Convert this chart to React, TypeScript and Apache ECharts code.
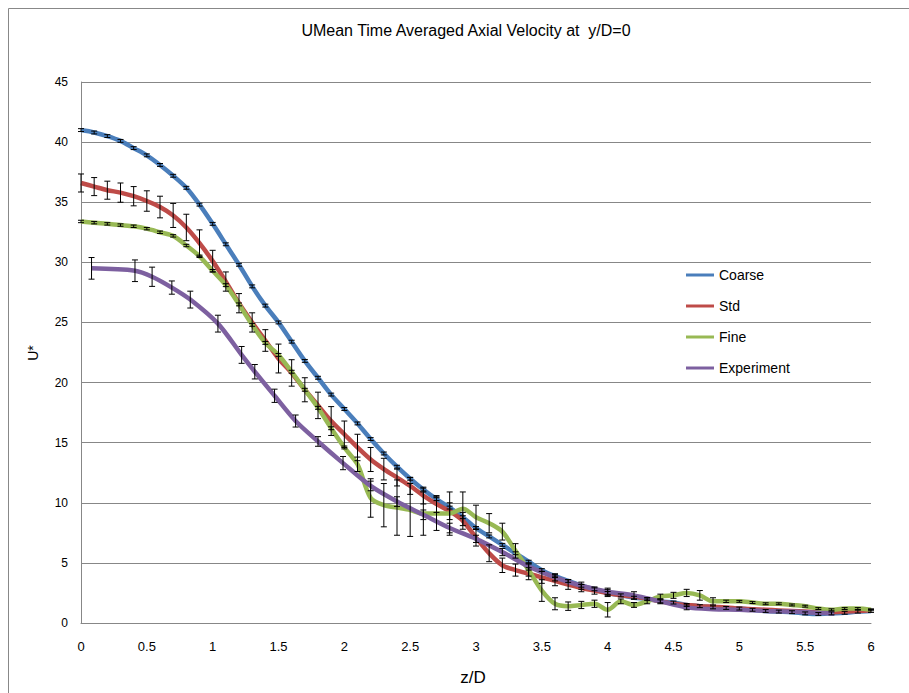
import React, { useEffect, useRef } from "react";
import * as echarts from "echarts";

const modelZ = [
  0, 0.1, 0.2, 0.3, 0.4, 0.5, 0.6, 0.7, 0.8, 0.9,
  1.0, 1.1, 1.2, 1.3, 1.4, 1.5, 1.6, 1.7, 1.8, 1.9,
  2.0, 2.1, 2.2, 2.3, 2.4, 2.5, 2.6, 2.7, 2.8, 2.9,
  3.0, 3.1, 3.2, 3.3, 3.4, 3.5, 3.6, 3.7, 3.8, 3.9,
  4.0, 4.1, 4.2, 4.3, 4.4, 4.5, 4.6, 4.7, 4.8, 4.9,
  5.0, 5.1, 5.2, 5.3, 5.4, 5.5, 5.6, 5.7, 5.8, 5.9, 6.0,
];

const coarseU = [
  41.0, 40.8, 40.5, 40.1, 39.5, 38.9, 38.1, 37.2, 36.2, 34.8,
  33.2, 31.5, 29.8, 28.0, 26.4, 25.0, 23.4, 21.8, 20.4, 19.0,
  17.8, 16.6, 15.3, 14.1, 13.0, 12.0, 11.1, 10.3, 9.6, 8.8,
  7.9, 7.2, 6.5, 5.8, 5.1, 4.4, 3.9, 3.5, 3.1, 2.8,
  2.5, 2.3, 2.1, 2.0, 1.8, 1.7, 1.5, 1.4, 1.3, 1.25,
  1.2, 1.1, 1.0, 0.95, 0.9, 0.8, 0.75, 0.8, 0.85, 0.95, 1.0,
];
const coarseErr = [
  0.12, 0.12, 0.12, 0.12, 0.12, 0.12, 0.12, 0.12, 0.12, 0.12,
  0.12, 0.12, 0.12, 0.12, 0.12, 0.12, 0.12, 0.12, 0.12, 0.12,
  0.12, 0.12, 0.12, 0.12, 0.12, 0.12, 0.12, 0.12, 0.12, 0.12,
  0.12, 0.12, 0.12, 0.12, 0.12, 0.12, 0.12, 0.12, 0.12, 0.12,
  0.12, 0.12, 0.12, 0.12, 0.12, 0.12, 0.12, 0.12, 0.12, 0.12,
  0.12, 0.12, 0.12, 0.12, 0.12, 0.12, 0.12, 0.12, 0.12, 0.12, 0.12,
];

const stdU = [
  36.6, 36.3, 36.0, 35.8, 35.5, 35.1, 34.6, 33.9, 32.9, 31.6,
  30.1, 28.4, 26.6, 25.0, 23.5, 22.0, 20.8, 19.4, 18.1, 16.8,
  15.7, 14.6, 13.6, 12.8, 12.1, 11.4, 10.6, 9.9, 9.3, 8.5,
  7.1, 5.8, 4.8, 4.4, 4.1, 3.8, 3.5, 3.2, 2.9, 2.7,
  2.5, 2.3, 2.2, 2.0, 1.8, 1.6, 1.5, 1.4, 1.35, 1.3,
  1.2, 1.15, 1.1, 1.05, 1.0, 0.95, 0.9, 0.9, 0.95, 1.0, 1.05,
];
const stdErr = [
  0.75, 0.75, 0.75, 0.8, 0.8, 0.85, 0.9, 1.0, 1.1, 1.1,
  0.9, 0.8, 0.8, 0.8, 0.9, 1.2, 1.1, 1.0, 1.1, 1.2,
  1.1, 1.1, 1.0, 0.9, 0.7, 0.7, 0.7, 0.7, 0.7, 0.7,
  0.7, 0.7, 0.6, 0.5, 0.5, 0.5, 0.4, 0.4, 0.3, 0.3,
  0.3, 0, 0, 0, 0, 0, 0, 0, 0, 0,
  0, 0, 0, 0, 0, 0, 0, 0, 0, 0, 0,
];

const fineU = [
  33.4, 33.3, 33.2, 33.1, 33.0, 32.8, 32.5, 32.2, 31.4, 30.5,
  29.3, 28.1, 26.5, 24.8, 23.3, 22.3, 20.9, 19.4, 17.9, 16.2,
  14.6, 13.2, 10.4, 9.8, 9.6, 9.4, 9.1, 9.1, 9.1, 9.5,
  8.8, 8.3, 7.6, 6.0, 4.4, 2.7, 1.6, 1.4, 1.5, 1.6,
  1.1, 1.8, 1.5, 1.8, 2.2, 2.3, 2.5, 2.3, 1.8, 1.8,
  1.8, 1.7, 1.6, 1.6, 1.5, 1.4, 1.2, 1.1, 1.2, 1.2, 1.1,
];
const fineErr = [
  0.1, 0.1, 0.1, 0.1, 0.1, 0.1, 0.1, 0.1, 0.1, 0.1,
  0.1, 0.12, 0.12, 0.12, 0.12, 0.12, 0.12, 0.12, 0.12, 0.12,
  0.12, 0.6, 1.6, 1.8, 2.3, 2.2, 1.8, 1.4, 1.8, 1.4,
  1.0, 0.8, 0.7, 0.6, 0.5, 0.9, 0.5, 0.35, 0.3, 0.3,
  0.6, 0.2, 0.2, 0.2, 0.2, 0.25, 0.3, 0.4, 0.3, 0.1,
  0.08, 0.08, 0.08, 0.08, 0.08, 0.08, 0.08, 0.08, 0.08, 0.08, 0.08,
];

const expZ = [
  0.08, 0.41, 0.54, 0.69, 0.83, 1.04, 1.22, 1.32, 1.47, 1.63,
  1.8, 1.99, 2.2, 2.4, 2.6, 2.8, 3.0, 3.2, 3.4, 3.6,
  3.8, 4.0, 4.2, 4.4, 4.6, 4.8, 5.0, 5.2, 5.4, 5.6, 5.72,
];
const expU = [
  29.5, 29.3, 28.8, 27.9, 26.9, 24.9, 22.3, 20.9, 18.9, 16.8,
  15.1, 13.3, 11.4, 10.1, 9.0, 7.9, 7.0, 5.9, 4.7, 3.8,
  3.1, 2.6, 2.3, 1.8, 1.3, 1.15, 1.1, 1.0, 0.95, 0.85, 0.8,
];
const expErr = [
  0.9, 0.9, 0.8, 0.55, 0.7, 0.7, 0.7, 0.6, 0.55, 0.5,
  0.4, 0.55, 0.4, 0.4, 0.4, 0.4, 0.3, 0.3, 0.3, 0.3,
  0.3, 0.3, 0.3, 0.2, 0.2, 0, 0, 0, 0, 0, 0,
];

const seriesNames = ["Coarse", "Std", "Fine", "Experiment"];
const seriesColors = ["#4A7EBB", "#BE4B48", "#98B954", "#7D60A0"];
const xTitle = "z/D";
const yTitle = "U*";
const chartTitle = "UMean Time Averaged Axial Velocity at  y/D=0";

export default function App() {
  const ref = useRef<HTMLDivElement>(null);
  useEffect(() => {
    const chart = echarts.init(ref.current!, null, { renderer: "svg" });
    const pairs = (zs: number[], us: number[]) => zs.map((z, i) => [z, us[i]]);
    const bars = (zs: number[], us: number[], es: number[]) =>
      zs
        .map((z, i) => [z, us[i] - es[i], us[i] + es[i], es[i]])
        .filter((d) => d[3] > 0)
        .map((d) => [d[0], d[1], d[2]]);

    const lineSeries = (idx: number, zs: number[], us: number[]) => ({
      type: "line",
      name: seriesNames[idx],
      data: pairs(zs, us),
      smooth: 0.3,
      showSymbol: false,
      symbol: "none",
      lineStyle: { width: 4.5, color: seriesColors[idx] },
      itemStyle: { color: seriesColors[idx] },
      z: 2,
    });

    const errSeries = (name: string, data: number[][]) => ({
      type: "custom",
      name,
      data,
      z: 5,
      silent: true,
      encode: { x: 0, y: [1, 2] },
      renderItem: (_p: any, api: any) => {
        const lo = api.coord([api.value(0), api.value(1)]);
        const hi = api.coord([api.value(0), api.value(2)]);
        const cw = 3;
        const st = { stroke: "#000", lineWidth: 1 };
        return {
          type: "group",
          children: [
            { type: "line", shape: { x1: lo[0], y1: lo[1], x2: hi[0], y2: hi[1] }, style: st },
            { type: "line", shape: { x1: lo[0] - cw, y1: lo[1], x2: lo[0] + cw, y2: lo[1] }, style: st },
            { type: "line", shape: { x1: hi[0] - cw, y1: hi[1], x2: hi[0] + cw, y2: hi[1] }, style: st },
          ],
        };
      },
    });

    const narrow = "'Liberation Sans Narrow', 'Arial Narrow', 'Liberation Sans', Arial, sans-serif";
    const regular = "'Liberation Sans', Arial, sans-serif";

    chart.setOption({
      animation: false,
      backgroundColor: "#fff",
      grid: { left: 81, right: 38, top: 82, bottom: 70, containLabel: false },
      xAxis: {
        type: "value",
        min: 0,
        max: 6,
        interval: 0.5,
        splitLine: { show: false },
        axisLine: { show: true, lineStyle: { color: "#878787", width: 1 } },
        axisTick: { show: false },
        axisLabel: { color: "#000", fontFamily: narrow, fontSize: 13, margin: 17 },
      },
      yAxis: {
        type: "value",
        min: 0,
        max: 45,
        interval: 5,
        splitLine: { show: true, lineStyle: { color: "#878787", width: 1 } },
        axisLine: { show: true, lineStyle: { color: "#878787", width: 1 } },
        axisTick: { show: false },
        axisLabel: { color: "#000", fontFamily: regular, fontSize: 12, margin: 13 },
      },
      legend: {
        data: seriesNames.map((n) => ({ name: n, icon: "rect" })),
        orient: "vertical",
        left: 681,
        top: 262,
        itemWidth: 28,
        itemHeight: 3,
        itemGap: 15,
        textStyle: { fontFamily: regular, fontSize: 14, color: "#000", lineHeight: 16 },
      },
      graphic: [
        {
          type: "rect",
          shape: { x: 8.5, y: 8.5, width: 1000, height: 1000 },
          style: { fill: "none", stroke: "#888", lineWidth: 1 },
          silent: true,
        },
        {
          type: "text",
          x: 466,
          y: 30,
          style: {
            text: chartTitle,
            fontFamily: narrow,
            fontSize: 16,
            fill: "#000",
            textAlign: "center",
            textVerticalAlign: "middle",
          },
        },
        {
          type: "text",
          x: 473,
          y: 677,
          style: {
            text: xTitle,
            fontFamily: narrow,
            fontSize: 17,
            fill: "#000",
            textAlign: "center",
            textVerticalAlign: "middle",
          },
        },
        {
          type: "text",
          x: 33,
          y: 353,
          rotation: Math.PI / 2,
          style: {
            text: yTitle,
            fontFamily: regular,
            fontSize: 14,
            fill: "#000",
            textAlign: "center",
            textVerticalAlign: "middle",
          },
        },
      ],
      series: [
        lineSeries(0, modelZ, coarseU),
        lineSeries(1, modelZ, stdU),
        lineSeries(2, modelZ, fineU),
        lineSeries(3, expZ, expU),
        errSeries("CoarseErr", bars(modelZ, coarseU, coarseErr)),
        errSeries("StdErr", bars(modelZ, stdU, stdErr)),
        errSeries("FineErr", bars(modelZ, fineU, fineErr)),
        errSeries("ExperimentErr", bars(expZ, expU, expErr)),
      ],
    });
    return () => chart.dispose();
  }, []);
  return (
    <div
      ref={ref}
      style={{ position: "absolute", left: 0, top: 0, width: 909, height: 693 }}
    />
  );
}
